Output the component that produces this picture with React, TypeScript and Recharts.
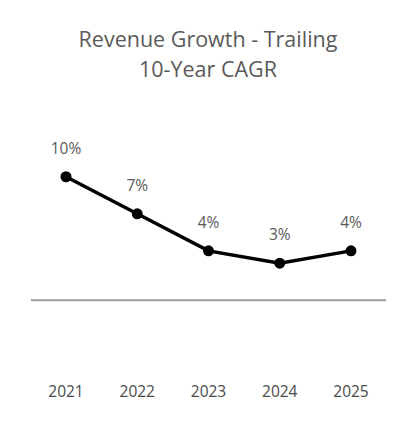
import React from "react";
import { LineChart, Line, XAxis, YAxis, ReferenceLine, LabelList } from "recharts";

const years = ["2021", "2022", "2023", "2024", "2025"];
const cagr = [10, 7, 4, 3, 4];

const data = years.map((year, i) => ({ year, cagr: cagr[i] }));

const FONT = "'Open Sans', 'Noto Sans', sans-serif";

export default function App() {
  return (
    <div style={{ position: "absolute", left: 0, top: 0, width: 416, height: 430, background: "#fff", fontFamily: FONT }}>
      <div
        style={{
          position: "absolute",
          left: 0,
          top: 24,
          width: 416,
          textAlign: "center",
          color: "#5a5a5a",
          fontSize: 21.5,
          lineHeight: "30px",
        }}
      >
        Revenue Growth - Trailing
        <br />
        10-Year CAGR
      </div>
      <LineChart
        width={416}
        height={430}
        data={data}
        margin={{ top: 115, right: 30, bottom: 0, left: 31 }}
        style={{ position: "absolute", left: 0, top: 0 }}
      >
        <XAxis
          dataKey="year"
          axisLine={false}
          tickLine={false}
          tickMargin={18}
          padding={{ left: 35, right: 35 }}
          tick={{ fill: "#4a4a4a", fontSize: 15.5, fontFamily: FONT }}
          height={68}
        />
        <YAxis hide domain={[-5, 15]} />
        <ReferenceLine y={0} stroke="#9a9a9a" strokeWidth={2} />
        <Line
          dataKey="cagr"
          stroke="#000"
          strokeWidth={3.5}
          dot={{ r: 5.5, fill: "#000", stroke: "#000", strokeWidth: 0 }}
          isAnimationActive={false}
        >
          <LabelList
            dataKey="cagr"
            position="top"
            offset={23}
            formatter={(v: number) => `${v}%`}
            style={{ fill: "#5a5a5a", fontSize: 15.5, fontFamily: FONT }}
          />
        </Line>
      </LineChart>
    </div>
  );
}
